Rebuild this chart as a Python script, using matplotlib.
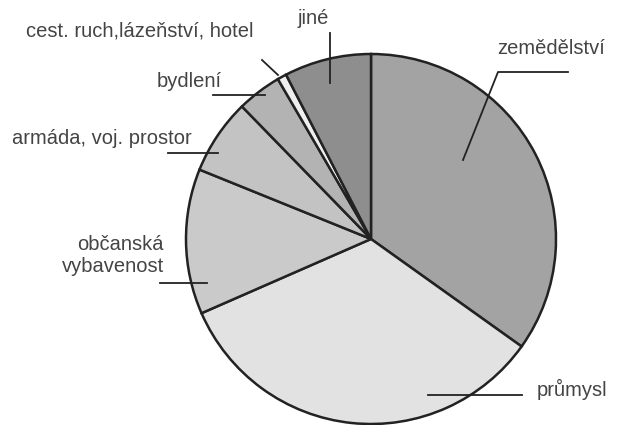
import matplotlib
matplotlib.use("Agg")
import matplotlib.pyplot as plt

categories = ["zemědělství", "průmysl", "občanská\nvybavenost", "armáda, voj. prostor",
              "bydlení", "cest. ruch,lázeňství, hotel", "jiné"]
values = [34.9, 33.6, 12.7, 6.6, 3.9, 0.8, 7.6]
colors = ["#a3a3a3", "#e2e2e2", "#cacaca", "#c3c3c3", "#b3b3b3", "#efefef", "#8e8e8e"]

W, H = 619, 425
fig = plt.figure(figsize=(W / 100, H / 100), dpi=100)
ax = fig.add_axes([0, 0, 1, 1])
ax.set_xlim(0, W)
ax.set_ylim(0, H)
ax.set_aspect("equal")
ax.axis("off")

def Y(py):
    return H - py

ax.pie(values, colors=colors, startangle=90, counterclock=False,
       center=(371, Y(239)), radius=185, frame=True,
       wedgeprops=dict(edgecolor="#222222", linewidth=1.8))
ax.set_xlim(0, W)
ax.set_ylim(0, H)
ax.axis("off")

txt = dict(fontsize=14.5, color="#444444", family=["Liberation Sans", "DejaVu Sans"])
lc = dict(color="#222222", linewidth=1.3)

# zemědělství
ax.text(497, Y(48), categories[0], ha="left", va="center", **txt)
ax.plot([463, 498, 568], [Y(160), Y(72), Y(72)], **lc)
# průmysl
ax.text(537, Y(389), categories[1], ha="left", va="center", **txt)
ax.plot([428, 522], [Y(395), Y(395)], **lc)
# občanská vybavenost
ax.text(164, Y(255), categories[2], ha="right", va="center", linespacing=1.2, **txt)
ax.plot([160, 207], [Y(283), Y(283)], **lc)
# armáda
ax.text(12, Y(138), categories[3], ha="left", va="center", **txt)
ax.plot([168, 218], [Y(153), Y(153)], **lc)
# bydlení
ax.text(157, Y(81), categories[4], ha="left", va="center", **txt)
ax.plot([213, 265], [Y(95), Y(95)], **lc)
# cest. ruch
ax.text(26, Y(31), categories[5], ha="left", va="center", **txt)
ax.plot([262, 278], [Y(60), Y(75)], **lc)
# jiné
ax.text(297, Y(18), categories[6], ha="left", va="center", **txt)
ax.plot([330, 330], [Y(33), Y(83)], **lc)

fig.savefig("out.png", dpi=100)
